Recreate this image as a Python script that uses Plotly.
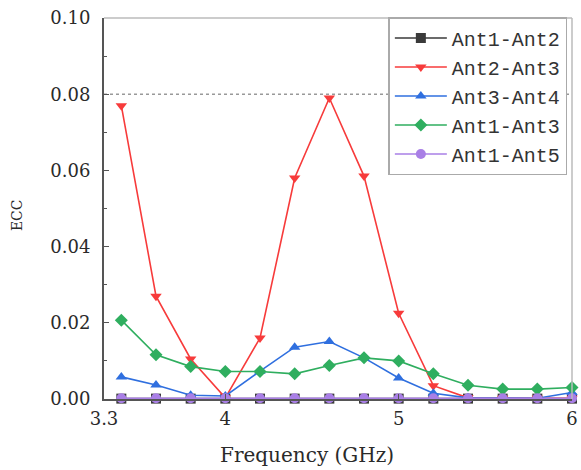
import plotly.graph_objects as go

freq = [3.4, 3.6, 3.8, 4.0, 4.2, 4.4, 4.6, 4.8, 5.0, 5.2, 5.4, 5.6, 5.8, 6.0]
ant12 = [0.0001, 0.0001, 0.0001, 0.0001, 0.0001, 0.0001, 0.0001, 0.0001, 0.0001, 0.0001, 0.0001, 0.0001, 0.0001, 0.0001]
ant23 = [0.077, 0.027, 0.0105, 0.0003, 0.016, 0.058, 0.079, 0.0585, 0.0225, 0.0035, 0.0003, 0.0002, 0.0002, 0.0002]
ant34 = [0.0058, 0.0037, 0.0010, 0.0008, 0.0073, 0.0136, 0.0151, 0.0108, 0.0055, 0.0015, 0.0003, 0.0002, 0.0002, 0.0017]
ant13 = [0.0207, 0.0116, 0.0085, 0.0072, 0.0072, 0.0066, 0.0088, 0.0108, 0.0100, 0.0066, 0.0036, 0.0026, 0.0026, 0.0030]
ant15 = [0.0002, 0.0002, 0.0002, 0.0002, 0.0002, 0.0002, 0.0002, 0.0002, 0.0002, 0.0002, 0.0002, 0.0002, 0.0002, 0.0002]

names = ["Ant1-Ant2", "Ant2-Ant3", "Ant3-Ant4", "Ant1-Ant3", "Ant1-Ant5"]
series = [ant12, ant23, ant34, ant13, ant15]
colors = ["#3a3a3a", "#F73B3B", "#2F6FDF", "#2FAE5F", "#A97FE6"]
symbols = ["square", "triangle-down", "triangle-up", "diamond", "circle"]

x_ticks = [3.3, 4, 5, 6]
x_labels = ["3.3", "4", "5", "6"]
y_ticks = [0.0, 0.02, 0.04, 0.06, 0.08, 0.10]
y_labels = ["0.00", "0.02", "0.04", "0.06", "0.08", "0.10"]
threshold = 0.08

fig = go.Figure()
for n, s, c, m in zip(names, series, colors, symbols):
    fig.add_trace(go.Scatter(
        x=freq, y=s, name=n, mode="lines+markers",
        line=dict(color=c, width=1.6),
        marker=dict(symbol=m, size=10, color=c),
        cliponaxis=False,
    ))

fig.add_shape(type="line", xref="x", yref="y", x0=3.3, x1=6, y0=threshold, y1=threshold,
              line=dict(color="#999999", width=1.5, dash="dot"), layer="below")

tickfont = dict(family="DejaVu Serif", size=18, color="#2a2a2a")
W, H = 581, 470
L, R, T, B = 104, 3, 18, 71
PW, PH = W - L - R, H - T - B
fig.update_layout(
    width=W, height=H,
    margin=dict(l=L, r=R, t=T, b=B),
    plot_bgcolor="white", paper_bgcolor="white",
    showlegend=True,
    legend=dict(x=(392 - L) / PW, y=(H - B - 17) / PH, xanchor="left", yanchor="top",
                font=dict(family="Liberation Mono", size=20, color="#333333"),
                bgcolor="white", bordercolor="#aaaaaa", borderwidth=1.5,
                tracegroupgap=0, itemwidth=52),
    xaxis=dict(range=[3.3, 6], tickvals=x_ticks, ticktext=x_labels,
               showgrid=False, zeroline=False,
               showline=True, linecolor="#555555", linewidth=2, mirror=False,
               ticks="inside", ticklen=5, tickcolor="#555555",
               tickfont=tickfont, ticklabelstandoff=2, ticklabeloverflow="allow"),
    yaxis=dict(range=[0, 0.1], tickvals=y_ticks, ticktext=y_labels,
               showgrid=False, zeroline=False,
               showline=True, linecolor="#555555", linewidth=2, mirror=False,
               ticks="inside", ticklen=5, tickcolor="#555555",
               minor=dict(dtick=0.01, ticks="inside", ticklen=3, tickcolor="#555555"),
               tickfont=tickfont, ticklabelstandoff=8, ticklabeloverflow="allow"),
)
fig.add_annotation(text="Frequency (GHz)", xref="paper", yref="paper",
                   x=(310 - L) / PW, y=-(455 - (H - B)) / PH,
                   xanchor="center", yanchor="middle", showarrow=False,
                   font=dict(family="DejaVu Serif", size=20, color="#2a2a2a"))
fig.add_annotation(text="ECC", xref="paper", yref="paper",
                   x=-(L - 16) / PW, y=(H - B - 215) / PH,
                   xanchor="center", yanchor="middle", showarrow=False, textangle=-90,
                   font=dict(family="DejaVu Serif", size=14, color="#2a2a2a"))
fig.add_shape(type="line", xref="paper", yref="paper", x0=0, x1=1, y0=1, y1=1,
              line=dict(color="#bbbbbb", width=1.5))
fig.add_shape(type="line", xref="paper", yref="paper", x0=1, x1=1, y0=0, y1=1,
              line=dict(color="#bbbbbb", width=1.5))

fig.write_html("out.html", config={"displayModeBar": False},
               post_script="document.body.style.margin='0';document.body.style.overflow='hidden';")
